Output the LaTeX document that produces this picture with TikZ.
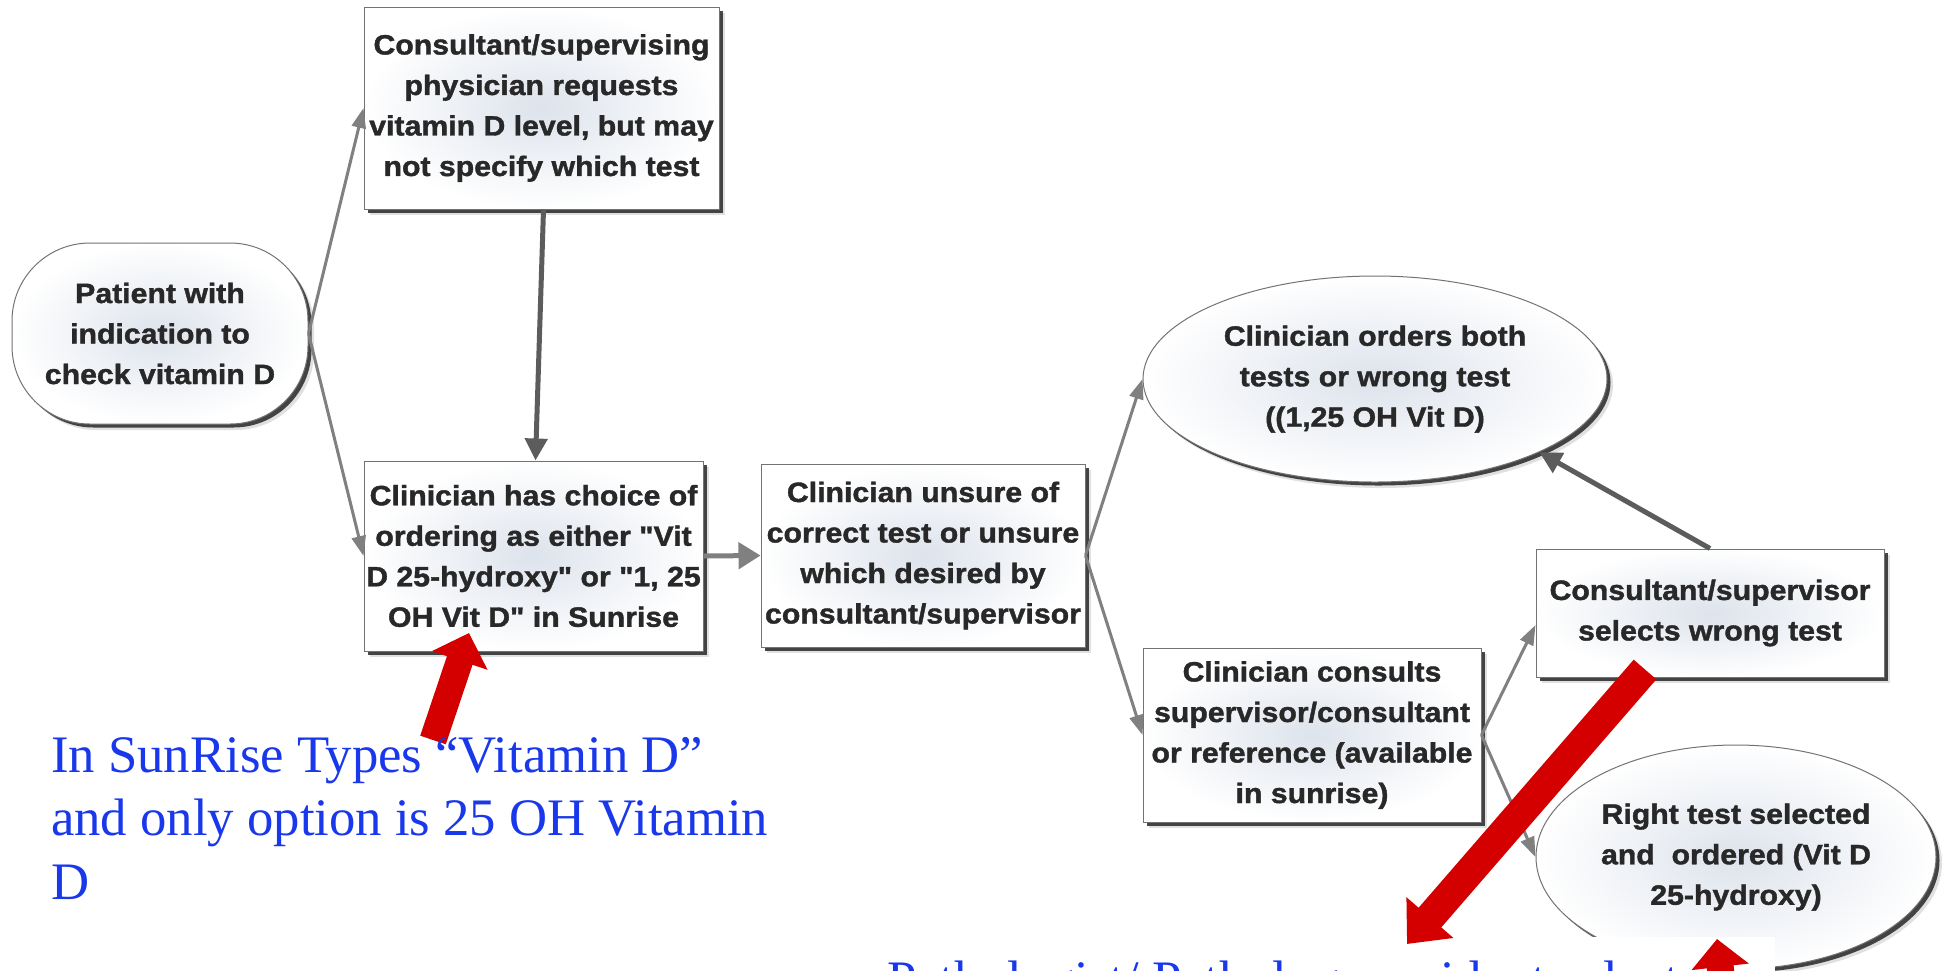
\documentclass[tikz,border=0pt]{standalone}
\usepackage{fontspec}
\usetikzlibrary{arrows.meta,shapes.geometric,shadows,calc}

\newfontfamily\boxfont{Liberation Sans}[FakeStretch=1.08, BoldFeatures={FakeBold=1.4}]
\newfontfamily\notefont{Liberation Serif}

\definecolor{boxtext}{RGB}{40,40,40}
\definecolor{boxline}{RGB}{115,115,115}
\definecolor{boxmid}{RGB}{221,227,236}
\definecolor{linkgray}{RGB}{128,128,128}
\definecolor{linkdark}{RGB}{92,92,92}
\definecolor{notered}{RGB}{212,0,0}
\definecolor{noteblue}{RGB}{25,55,235}

\tikzset{
  card/.style={
    draw=boxline, line width=1pt,
    inner color=boxmid, outer color=white,
    drop shadow={shadow xshift=6pt, shadow yshift=-6pt, fill=black, opacity=0.12},
    drop shadow={shadow xshift=3.5pt, shadow yshift=-3.5pt, fill=black!80, opacity=0.9},
    font=\boxfont\bfseries\fontsize{28}{40.5}\selectfont,
    text=boxtext, align=center, inner sep=0pt},
  link/.style={draw=linkgray, line width=3pt, -{Triangle[length=20pt,width=14pt]}},
  widelink/.style={draw=linkgray, line width=5pt, -{Triangle[length=22pt,width=26pt]}},
  heavylink/.style={draw=linkdark, line width=5pt, -{Triangle[length=22pt,width=22pt]}},
  pointer/.style={draw=notered, line width=27pt, -{Triangle[length=29pt,width=57pt]}},
  notetext/.style={font=\notefont\fontsize{52.7}{63.5}\selectfont, text=noteblue, inner sep=0pt},
}

\begin{document}
\begin{tikzpicture}[x=1pt,y=-1pt]
\useasboundingbox (0,0) rectangle (1945,970);
\clip (0,0) rectangle (1945,970);
\fill[white] (0,0) rectangle (1945,970);

% process boxes and outcomes
\node[card, rounded corners=78pt, minimum width=296pt, minimum height=181pt]
  (patient) at (160,333.5) {Patient with\\indication to\\check vitamin D};
\node[card, minimum width=355pt, minimum height=202pt]
  (request) at (541.5,108) {Consultant/supervising\\physician requests\\vitamin D level, but may\\not specify which test};
\node[card, minimum width=339pt, minimum height=190pt]
  (choice) at (533.5,556) {Clinician has choice of\\ordering as either "Vit\\D 25-hydroxy" or "1, 25\\OH Vit D" in Sunrise};
\node[card, minimum width=324pt, minimum height=183pt]
  (unsure) at (923,555.5) {Clinician unsure of\\correct test or unsure\\which desired by\\consultant/supervisor};
\node[card, ellipse, minimum width=464pt, minimum height=206pt]
  (both) at (1375,379) {Clinician orders both\\tests or wrong test\\((1,25 OH Vit D)};
\node[card, minimum width=338pt, minimum height=174pt]
  (consult) at (1312,735) {Clinician consults\\supervisor/consultant\\or reference (available\\in sunrise)};
\node[card, minimum width=348pt, minimum height=128pt]
  (wrong) at (1710,613) {Consultant/supervisor\\selects wrong test};
\node[card, ellipse, minimum width=400pt, minimum height=224pt]
  (right) at (1736,857) {Right test selected\\and\ \ ordered (Vit D\\25-hydroxy)};

% flow connectors
\draw[link] (patient.east) -- (request.west);
\draw[link] (patient.east) -- (choice.west);
\draw[heavylink] ([xshift=2pt]request.south) -- ([xshift=2pt]choice.north);
\draw[widelink] (choice.east) -- (unsure.west);
\draw[link] (unsure.east) -- (both.west);
\draw[link] (unsure.east) -- (consult.west);
\draw[link] (consult.east) -- ($(wrong.west)+(0,12)$);
\draw[link] (consult.east) -- (right.west);
\draw[heavylink] (wrong.north) -- (both.-24);

% lower annotation on its white panel
\fill[white] (872,937) rectangle (1775,975);
\node[notetext, anchor=base west] (noteB) at (887,997) {Pathologist/ Pathology resident selects};

% red call-out arrows
\coordinate (tailA) at (433,740);
\coordinate (tipA) at (469,633);
\coordinate (tailB) at (1645,669.5);
\coordinate (tipB) at (1407,944);
\coordinate (tailC) at (1734,1088);
\coordinate (tipC) at (1717,939);
\draw[pointer] (tailA) -- (tipA);
\draw[pointer, line width=30pt, -{Triangle[length=35pt,width=60pt]}] (tailB) -- (tipB);
\draw[pointer, -{Triangle[length=28pt,width=56pt]}] (tailC) -- (tipC);

% left annotation
\node[notetext, anchor=base west] (noteA) at (51,772)
  {\vtop{\hbox{In SunRise Types “Vitamin D”}\hbox{and only option is 25 OH Vitamin}\hbox{D}}};
\end{tikzpicture}
\end{document}
